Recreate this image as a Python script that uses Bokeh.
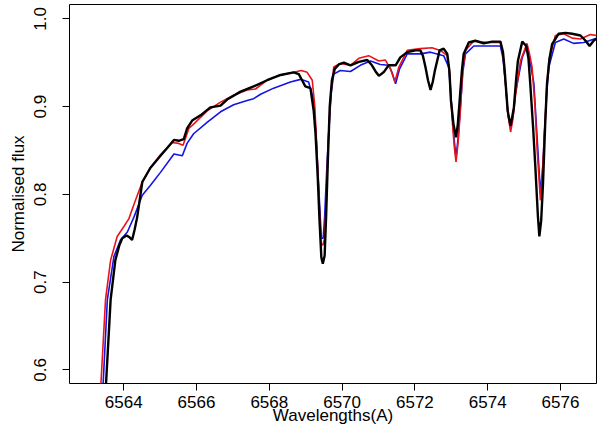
from bokeh.plotting import figure
from bokeh.models import Range1d, FixedTicker
from bokeh.embed import file_html
from bokeh.resources import INLINE

wl_black = [6563.50, 6563.52, 6563.64, 6563.77, 6563.88, 6563.96, 6564.08, 6564.16, 6564.23, 6564.30,
            6564.37, 6564.51, 6564.73, 6565.01, 6565.20, 6565.38, 6565.51, 6565.65, 6565.74, 6565.88,
            6566.11, 6566.38, 6566.66, 6566.84, 6567.21, 6567.57, 6567.94, 6568.31, 6568.67, 6568.81,
            6568.90, 6568.99, 6569.13, 6569.22, 6569.27, 6569.33, 6569.38, 6569.43, 6569.47, 6569.52,
            6569.56, 6569.61, 6569.66, 6569.72, 6569.80, 6569.91, 6570.05, 6570.23, 6570.46, 6570.69,
            6570.82, 6570.92, 6571.01, 6571.14, 6571.28, 6571.47, 6571.60, 6571.79, 6572.02, 6572.15,
            6572.22, 6572.29, 6572.36, 6572.43, 6572.49, 6572.55, 6572.68, 6572.79, 6572.89, 6572.95,
            6572.99, 6573.06, 6573.13, 6573.18, 6573.23, 6573.29, 6573.34, 6573.48, 6573.66, 6573.89,
            6574.12, 6574.35, 6574.42, 6574.46, 6574.55, 6574.63, 6574.72, 6574.78, 6574.83, 6574.95,
            6575.06, 6575.12, 6575.17, 6575.25, 6575.31, 6575.38, 6575.42, 6575.47, 6575.52, 6575.58,
            6575.63, 6575.70, 6575.77, 6575.95, 6576.14, 6576.32, 6576.55, 6576.69, 6576.80, 6576.91,
            6577.01]
flux_black = [0.575, 0.589, 0.680, 0.725, 0.742, 0.750, 0.753, 0.751, 0.748, 0.760,
              0.774, 0.814, 0.830, 0.844, 0.853, 0.862, 0.861, 0.863, 0.875, 0.884,
              0.890, 0.899, 0.901, 0.908, 0.917, 0.923, 0.930, 0.936, 0.939, 0.937,
              0.930, 0.923, 0.921, 0.895, 0.869, 0.820, 0.770, 0.728, 0.721, 0.730,
              0.774, 0.840, 0.900, 0.930, 0.943, 0.948, 0.950, 0.947, 0.951, 0.953,
              0.947, 0.940, 0.935, 0.939, 0.947, 0.947, 0.956, 0.962, 0.964, 0.964,
              0.958, 0.945, 0.930, 0.919, 0.928, 0.941, 0.964, 0.966, 0.960, 0.940,
              0.907, 0.880, 0.865, 0.880, 0.907, 0.940, 0.960, 0.973, 0.975, 0.972,
              0.974, 0.974, 0.962, 0.945, 0.895, 0.878, 0.899, 0.930, 0.952, 0.974,
              0.969, 0.955, 0.926, 0.875, 0.831, 0.775, 0.752, 0.770, 0.812, 0.880,
              0.926, 0.955, 0.971, 0.983, 0.984, 0.983, 0.981, 0.975, 0.969, 0.975,
              0.978]

wl_red = [6563.36, 6563.38, 6563.50, 6563.64, 6563.82, 6564.00, 6564.14, 6564.32, 6564.51, 6564.73,
          6565.01, 6565.33, 6565.51, 6565.63, 6565.79, 6565.92, 6566.29, 6566.66, 6567.02, 6567.39,
          6567.62, 6567.94, 6568.31, 6568.67, 6568.88, 6569.04, 6569.18, 6569.25, 6569.31, 6569.37,
          6569.42, 6569.47, 6569.52, 6569.57, 6569.61, 6569.68, 6569.77, 6569.95, 6570.23, 6570.46,
          6570.73, 6571.01, 6571.19, 6571.33, 6571.45, 6571.56, 6571.79, 6572.15, 6572.47, 6572.70,
          6572.89, 6572.96, 6573.02, 6573.08, 6573.13, 6573.19, 6573.25, 6573.31, 6573.39, 6573.62,
          6573.99, 6574.35, 6574.42, 6574.49, 6574.56, 6574.63, 6574.69, 6574.76, 6574.90, 6575.08,
          6575.15, 6575.22, 6575.30, 6575.36, 6575.45, 6575.50, 6575.56, 6575.62, 6575.68, 6575.86,
          6576.09, 6576.32, 6576.55, 6576.82, 6577.01]
flux_red = [0.575, 0.589, 0.680, 0.725, 0.752, 0.763, 0.772, 0.793, 0.814, 0.830,
            0.845, 0.859, 0.858, 0.856, 0.875, 0.880, 0.895, 0.905, 0.913, 0.919,
            0.920, 0.930, 0.936, 0.939, 0.941, 0.939, 0.930, 0.900, 0.850, 0.790,
            0.744, 0.742, 0.750, 0.800, 0.850, 0.910, 0.945, 0.949, 0.947, 0.955,
            0.958, 0.952, 0.953, 0.943, 0.928, 0.945, 0.964, 0.966, 0.967, 0.964,
            0.958, 0.935, 0.888, 0.855, 0.837, 0.860, 0.895, 0.940, 0.964, 0.975,
            0.973, 0.973, 0.960, 0.926, 0.890, 0.871, 0.885, 0.911, 0.952, 0.972,
            0.960, 0.945, 0.900, 0.850, 0.793, 0.820, 0.869, 0.920, 0.952, 0.981,
            0.983, 0.978, 0.977, 0.982, 0.981]

wl_blue = [6563.42, 6563.44, 6563.55, 6563.73, 6563.91, 6564.10, 6564.28, 6564.51, 6564.73, 6565.01,
           6565.38, 6565.61, 6565.74, 6565.92, 6566.29, 6566.66, 6567.02, 6567.39, 6567.57, 6567.76,
           6568.12, 6568.58, 6568.86, 6569.08, 6569.22, 6569.28, 6569.33, 6569.38, 6569.43, 6569.48,
           6569.52, 6569.58, 6569.63, 6569.70, 6569.77, 6569.95, 6570.23, 6570.50, 6570.78, 6571.05,
           6571.28, 6571.38, 6571.47, 6571.58, 6571.79, 6572.15, 6572.43, 6572.79, 6572.93, 6573.02,
           6573.08, 6573.13, 6573.19, 6573.25, 6573.32, 6573.39, 6573.62, 6574.35, 6574.42, 6574.49,
           6574.56, 6574.63, 6574.70, 6574.76, 6574.95, 6575.08, 6575.17, 6575.27, 6575.38, 6575.45,
           6575.51, 6575.56, 6575.63, 6575.68, 6575.86, 6576.09, 6576.36, 6576.64, 6577.01]
flux_blue = [0.575, 0.589, 0.680, 0.729, 0.748, 0.757, 0.774, 0.799, 0.810, 0.825,
             0.846, 0.844, 0.858, 0.869, 0.882, 0.894, 0.902, 0.907, 0.909, 0.914,
             0.921, 0.928, 0.931, 0.928, 0.907, 0.870, 0.831, 0.790, 0.750, 0.750,
             0.774, 0.830, 0.869, 0.915, 0.937, 0.941, 0.940, 0.947, 0.952, 0.948,
             0.947, 0.938, 0.926, 0.943, 0.960, 0.960, 0.962, 0.958, 0.945, 0.895,
             0.862, 0.842, 0.865, 0.899, 0.940, 0.960, 0.969, 0.969, 0.955, 0.926,
             0.890, 0.875, 0.890, 0.915, 0.956, 0.969, 0.950, 0.926, 0.850, 0.801,
             0.830, 0.869, 0.920, 0.945, 0.973, 0.977, 0.972, 0.973, 0.978]

x_ticks = [6564, 6566, 6568, 6570, 6572, 6574, 6576]
y_ticks = [0.6, 0.7, 0.8, 0.9, 1.0]

FONT = "Liberation Sans"

p = figure(width=600, height=434, output_backend="svg", toolbar_location=None,
           x_range=Range1d(6562.51, 6576.99), y_range=Range1d(0.5844, 1.0163),
           min_border_left=69, min_border_right=4, min_border_top=4, min_border_bottom=51,
           background_fill_color="white", border_fill_color="white")
p.grid.visible = False
p.outline_line_color = "black"
p.outline_line_width = 1

p.line(wl_blue, flux_blue, line_color="#1414e6", line_width=1.6)
p.line(wl_red, flux_red, line_color="#e8141b", line_width=1.6)
p.line(wl_black, flux_black, line_color="black", line_width=2.4)

for ax in (p.xaxis[0], p.yaxis[0]):
    ax.axis_line_color = None
    ax.major_tick_line_color = "black"
    ax.major_tick_in = 0
    ax.major_tick_out = 7
    ax.minor_tick_line_color = None
    ax.major_label_text_font = FONT
    ax.major_label_text_font_size = "17px"
    ax.major_label_text_color = "black"
    ax.axis_label_text_font = FONT
    ax.axis_label_text_font_size = "17px"
    ax.axis_label_text_font_style = "normal"
    ax.axis_label_text_color = "black"

p.xaxis.ticker = FixedTicker(ticks=x_ticks)
p.yaxis.ticker = FixedTicker(ticks=y_ticks)
p.yaxis.major_label_overrides = {0.6: "0.6", 0.7: "0.7", 0.8: "0.8", 0.9: "0.9", 1.0: "1.0"}
p.yaxis.major_label_orientation = "parallel"
p.xaxis.axis_label = "Wavelengths(A)"
p.yaxis.axis_label = "Normalised flux"
p.xaxis.major_label_standoff = 5
p.xaxis.axis_label_standoff = -5
p.yaxis.major_label_standoff = 16
p.yaxis.axis_label_standoff = 4

open("out.html", "w").write(file_html(p, INLINE))
